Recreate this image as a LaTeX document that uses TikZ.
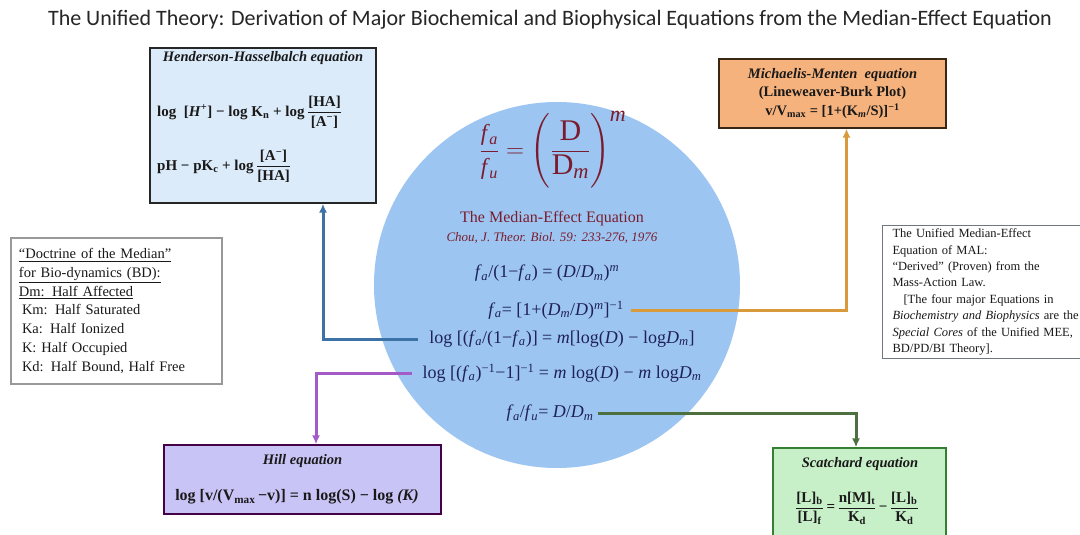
\documentclass[tikz,border=0pt]{standalone}
\usepackage{amsmath}
\usepackage{fontspec}
\setmainfont{Liberation Serif}
\newfontfamily\titlefont{Carlito}
\usetikzlibrary{arrows.meta}

\definecolor{circblue}{HTML}{9CC6F1}
\definecolor{hhfill}{HTML}{DCEBFA}
\definecolor{mmfill}{HTML}{F6B27C}
\definecolor{hillfill}{HTML}{C9C4F6}
\definecolor{scfill}{HTML}{C8F0C8}
\definecolor{eqred}{HTML}{7B1C2E}
\definecolor{eqnavy}{HTML}{1F2158}
\definecolor{linkblue}{HTML}{3C72A6}
\definecolor{linkorange}{HTML}{D99A3C}
\definecolor{linkpurple}{HTML}{A45BC8}
\definecolor{linkgreen}{HTML}{4D7040}

% text fragments
\newcommand{\hfr}[2]{$\dfrac{\mbox{#1}}{\mbox{#2}}$}
\newcommand{\fsa}{\textit{f}\kern-0.5pt\textsubscript{\textit{a}}}
\newcommand{\fsu}{\textit{f}\kern-0.5pt\textsubscript{\textit{u}}}
\newcommand{\Dsm}{\textit{D}\textsubscript{\textit{m}}}

\tikzset{
  eqbox/.style={rectangle, inner sep=0pt, line width=1.3pt},
  notebox/.style={rectangle, inner sep=0pt, line width=1.1pt, fill=white},
  boxtext/.style={inner sep=0pt, text=black!90, font=\fontsize{15}{18}\selectfont\bfseries},
  boxtitle/.style={inner sep=0pt, text=black!90, font=\fontsize{14.5}{17}\selectfont\bfseries\itshape},
  meeq/.style={inner sep=0pt, text=eqnavy, font=\fontsize{18}{20}\selectfont},
  link/.style={draw=#1, line width=3pt},
}

\begin{document}
\begin{tikzpicture}[x=1pt,y=-1pt,>={Latex[length=9pt,width=8pt]}]
  \useasboundingbox[fill=white] (0,0) rectangle (1080,535);

  % title
  \node[inner sep=0pt, text=black!85, font=\titlefont\fontsize{22}{26}\selectfont] (title) at (550,20)
    {The Unified Theory: Derivation of Major Biochemical and Biophysical Equations from the Median-Effect Equation};

  % the median-effect circle
  \node[circle, fill=circblue, minimum size=366pt, inner sep=0pt] (mec) at (557,285) {};

  % boxes
  \node[eqbox, draw=black!85, fill=hhfill, minimum width=226pt, minimum height=155pt] (hh) at (263,125.5) {};
  \node[eqbox, draw=black!70!brown, fill=mmfill, minimum width=227pt, minimum height=69pt,
        align=center, font=\fontsize{14.5}{18.5}\selectfont\bfseries, text=black!90] (mm) at (832.5,93.5)
    {\textit{Michaelis-Menten\ \ equation}\\
     (Lineweaver-Burk Plot)\\
     v/V\textsubscript{max} = [1+(K\textsubscript{\textit{m}}/S)]\textsuperscript{−1}};
  \node[notebox, draw=black!40, minimum width=211pt, minimum height=146pt, text width=195pt,
        align=left, font=\fontsize{14.5}{18.7}\selectfont, text=black!90] (bd) at (116.5,311)
    {\underline{“Doctrine of the Median”}\\
     \underline{for Bio-dynamics (BD):}\\
     \underline{Dm: Half Affected}\\
     \hspace*{3pt}Km: Half Saturated\\
     \hspace*{3pt}Ka: Half Ionized\\
     \hspace*{3pt}K: Half Occupied\\
     \hspace*{3pt}Kd: Half Bound, Half Free};
  \node[notebox, draw=gray!80!cyan!70!black, anchor=north west, minimum width=230pt, minimum height=133pt,
        text width=220pt, inner xsep=10pt, align=left, font=\fontsize{12.5}{16.4}\selectfont, text=black!90] (mal) at (882,225)
    {The Unified Median-Effect\\
     Equation of MAL:\\
     “Derived” (Proven) from the\\
     Mass-Action Law.\\
     \hspace*{11pt}[The four major Equations in\\
     \textit{Biochemistry and Biophysics} are the\\
     \textit{Special Cores} of the Unified MEE,\\
     BD/PD/BI Theory].};
  \node[eqbox, draw=black!45!violet, fill=hillfill, minimum width=277pt, minimum height=69pt] (hill) at (302.5,479.5) {};
  \node[eqbox, draw=black!50!green!60!gray, fill=scfill, minimum width=173pt, minimum height=110pt] (sc) at (859.5,503) {};

  % text of the equation boxes
  \node[boxtitle] (hhtitle) at (263,58) {Henderson-Hasselbalch equation};
  \node[boxtext, anchor=west] (hhA) at (157,112)
    {log\ \ [\textit{H}\textsuperscript{+}] − log\ K\textsubscript{n} +\ log\,\hfr{[HA]}{[A\textsuperscript{−}]}};
  \node[boxtext, anchor=west] (hhB) at (157,166)
    {pH − pK\textsubscript{c} + log\,\hfr{[A\textsuperscript{−}]}{[HA]}};
  \node[boxtitle] (hilltitle) at (302.5,461) {Hill equation};
  \node[boxtext, font=\fontsize{16}{18}\selectfont\bfseries] (hillA) at (297,497)
    {log [v/(V\textsubscript{max}\,−v)]\ = n log(S) − log \textit{(K)}};
  \node[boxtitle] (sctitle) at (860,464) {Scatchard equation};
  \node[boxtext] (scA) at (857,508)
    {\hfr{[L]\textsubscript{b}}{[L]\textsubscript{f}}\,=\,\hfr{n[M]\textsubscript{t}}{K\textsubscript{d}}\,−\,\hfr{[L]\textsubscript{b}}{K\textsubscript{d}}};

  % text in the circle
  \node[inner sep=0pt, text=eqred, font=\fontsize{30}{34}\selectfont] (mee) at (553,150)
    {$\dfrac{\mbox{\fontsize{23}{23}\selectfont\fsa}}{\mbox{\fontsize{23}{23}\selectfont\fsu}}
      = \Biggl(\dfrac{\mbox{D}}{\mbox{D\textsubscript{\textit{m}}}}\Biggr)^{\mbox{\fontsize{22}{22}\selectfont\textit{m}}}$};
  \node[inner sep=0pt, text=eqred, font=\fontsize{16}{18}\selectfont] (meename) at (552,219) {The Median-Effect Equation};
  \node[inner sep=0pt, text=eqred, font=\fontsize{13}{15}\selectfont\itshape] (meeref) at (552,238)
    {Chou, J. Theor. Biol. 59: 233-276, 1976};
  \node[meeq] (eqA) at (547,273) {\fsa/(1−\fsa) = (\textit{D}/\Dsm)\textsuperscript{\textit{m}}};
  \node[meeq] (eqB) at (556,310) {\fsa = [1+(\Dsm/\textit{D})\textsuperscript{\textit{m}}]\textsuperscript{−1}};
  \node[meeq] (eqC) at (562,339) {log [(\fsa/(1−\fsa)] = \textit{m}[log(\textit{D}) − log\Dsm]};
  \node[meeq] (eqD) at (562,373) {log [(\fsa)\textsuperscript{−1}−1]\textsuperscript{−1} = \textit{m} log(\textit{D}) − \textit{m} log\Dsm};
  \node[meeq] (eqE) at (550,413) {\fsa/\fsu = \textit{D}/\Dsm};

  % connectors
  \draw[link=linkblue,->] ([xshift=-11pt]eqC.west) -| ([xshift=60pt]hh.south);
  \draw[link=linkorange,->] ([xshift=7pt]eqB.east) -| ([xshift=14pt]mm.south);
  \draw[link=linkpurple,->] ([xshift=-10pt]eqD.west) -| ([xshift=13.5pt]hill.north);
  \draw[link=linkgreen,->] ([xshift=4pt]eqE.east) -| ([xshift=-3.5pt]sc.north);
\end{tikzpicture}
\end{document}
